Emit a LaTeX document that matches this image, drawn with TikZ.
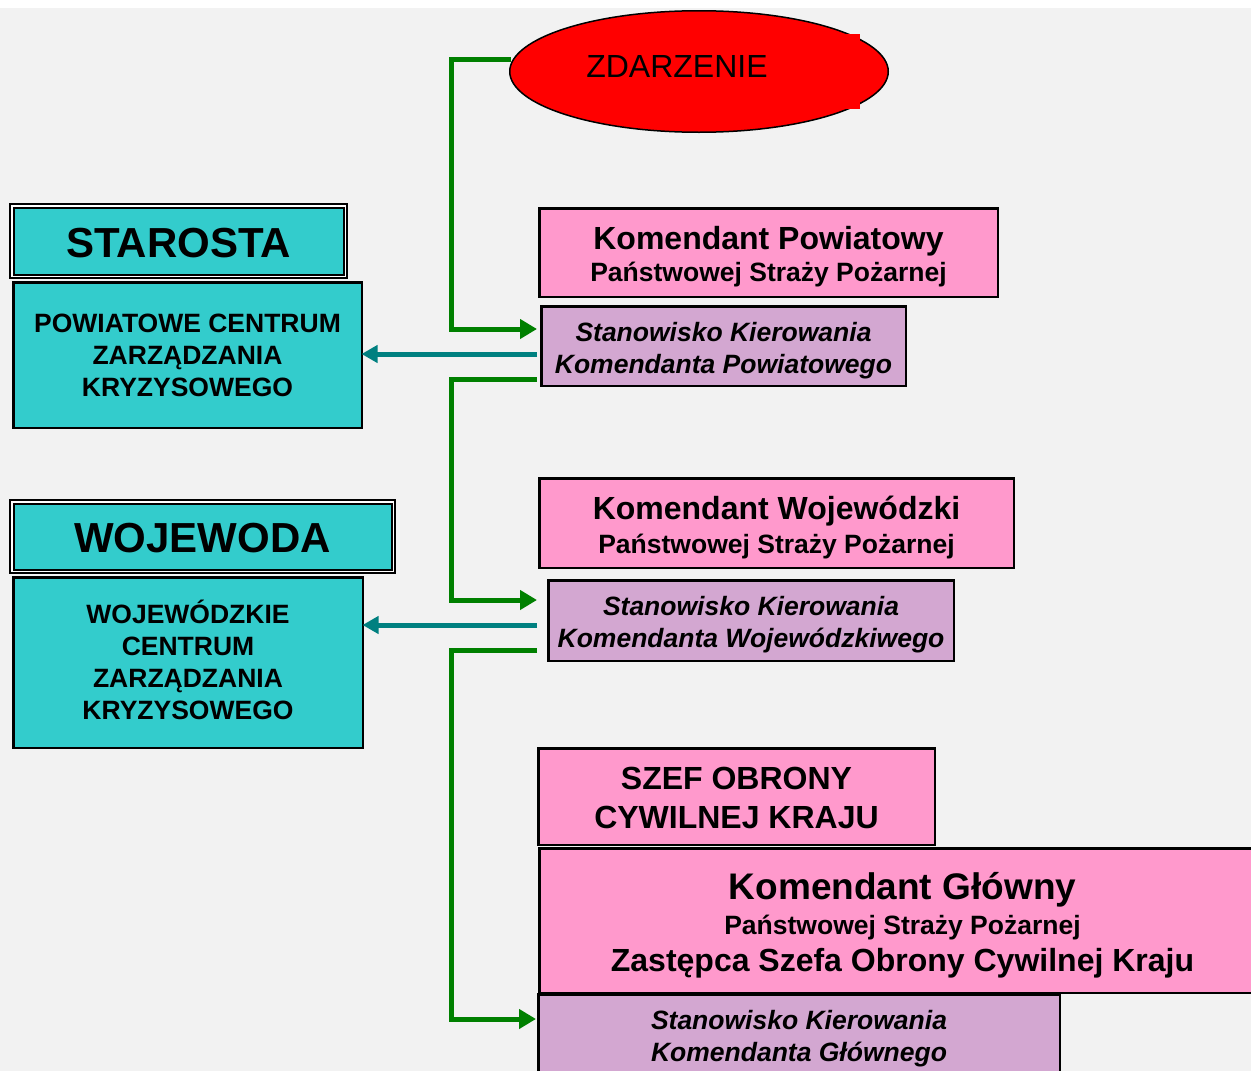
\documentclass[tikz,border=0pt]{standalone}
\usepackage{fontspec}
\setmainfont{Liberation Sans}
\usetikzlibrary{arrows.meta,shapes.geometric,calc}
\definecolor{bgc}{RGB}{242,242,242}
\definecolor{cyanbox}{RGB}{51,204,204}
\definecolor{pinkbox}{RGB}{255,153,204}
\definecolor{purplebox}{RGB}{211,167,209}
\definecolor{linkgreen}{RGB}{0,128,0}
\definecolor{linkteal}{RGB}{0,128,128}
\begin{document}
\begin{tikzpicture}[x=1pt,y=-1pt,
  box/.style={draw=black, line width=2.5pt, inner sep=0pt, rectangle},
  cyanb/.style={box, fill=cyanbox},
  pinkb/.style={box, fill=pinkbox},
  purpb/.style={box, fill=purplebox},
  headb/.style={draw=black, line width=2pt, double=white, double distance=1.5pt,
    fill=cyanbox, inner sep=0pt, rectangle},
  txt/.style={align=center, inner sep=0pt, font=\bfseries\fontsize{26.5}{32}\selectfont},
  headtxt/.style={txt, font=\bfseries\fontsize{42}{50}\selectfont},
  ittxt/.style={txt, font=\bfseries\itshape\fontsize{26.5}{32}\selectfont},
  greenarr/.style={draw=linkgreen, line width=5pt, -{Triangle[length=17pt,width=19pt]}},
  tealarr/.style={draw=linkteal, line width=5pt, -{Triangle[length=16pt,width=17pt]}}
]
\useasboundingbox (0,0) rectangle (1251,1071);
\clip (0,0) rectangle (1251,1071);
\fill[white] (0,0) rectangle (1251,1071);
\fill[bgc] (0,8) rectangle (1251,1071);

% event
\node[ellipse, draw=black, line width=1.5pt, fill=red, minimum width=378.5pt, minimum height=121.5pt, inner sep=0pt] (zd) at (699,71.5) {};
\fill[red] (560,34) rectangle (860,109);
\node[font=\fontsize{32}{38}\selectfont, inner sep=0pt] (zdtext) at (677,66) {ZDARZENIE};

% left side
\node[headb, minimum width=333.5pt, minimum height=70.5pt] (starosta) at (178.5,241) {};
\node[headtxt] (starostatxt) at ([yshift=-2pt]starosta.center) {STAROSTA};
\node[cyanb, minimum width=348.5pt, minimum height=145.5pt] (pcent) at (187.5,355) {};
\node[txt] (pcenttxt) at (pcent.center) {POWIATOWE CENTRUM\\ZARZĄDZANIA\\KRYZYSOWEGO};
\node[headb, minimum width=381.5pt, minimum height=69.5pt] (wojewoda) at (202.5,536.5) {};
\node[headtxt] (wojewodatxt) at ([yshift=-2pt]wojewoda.center) {WOJEWODA};
\node[cyanb, minimum width=349.5pt, minimum height=170.5pt] (wcent) at (188,662.5) {};
\node[txt] (wcenttxt) at ([yshift=3pt]wcent.center) {WOJEWÓDZKIE\\CENTRUM\\ZARZĄDZANIA\\KRYZYSOWEGO};

% right side
\node[pinkb, minimum width=458.5pt, minimum height=88.5pt] (kpow) at (768.5,252.5) {};
\node[txt] (kpowtxt) at ([yshift=-4pt]kpow.center)
  {{\fontsize{32}{38}\selectfont Komendant Powiatowy}\\Państwowej Straży Pożarnej};
\node[purpb, minimum width=364.5pt, minimum height=79.5pt] (skpow) at (723.5,346) {};
\node[ittxt] (skpowtxt) at ([yshift=-5pt]skpow.center) {Stanowisko Kierowania\\Komendanta Powiatowego};
\node[pinkb, minimum width=474.5pt, minimum height=89.5pt] (kwoj) at (776.5,523) {};
\node[txt] (kwojtxt) at ([yshift=-5pt]kwoj.center)
  {{\fontsize{32}{38}\selectfont Komendant Wojewódzki}\\[2pt]Państwowej Straży Pożarnej};
\node[purpb, minimum width=405.5pt, minimum height=80.5pt] (skwoj) at (751,620.5) {};
\node[ittxt] (skwojtxt) at ([yshift=-4pt]skwoj.center) {Stanowisko Kierowania\\Komendanta Wojewódzkiwego};
\node[pinkb, minimum width=396.5pt, minimum height=96.5pt] (szef) at (736.5,796.5) {};
\node[txt, font=\bfseries\fontsize{32}{39}\selectfont] (szeftxt) at ([yshift=-1pt]szef.center) {SZEF OBRONY\\CYWILNEJ KRAJU};
\node[pinkb, minimum width=726.5pt, minimum height=144.5pt] (kglow) at (902.5,920.5) {};
\node[txt, font=\bfseries\fontsize{26.5}{35}\selectfont] (kglowtxt) at ([yshift=-4.5pt]kglow.center)
  {{\fontsize{37}{44}\selectfont Komendant Główny}\\Państwowej Straży Pożarnej\\[2pt]{\fontsize{32}{38}\selectfont Zastępca Szefa Obrony Cywilnej Kraju}};
\node[purpb, minimum width=521.5pt, minimum height=83.5pt] (skglow) at (799,1036) {};
\node[ittxt] (skglowtxt) at ([yshift=-3pt]skglow.center) {Stanowisko Kierowania\\Komendanta Głównego};

% connectors
\coordinate (bus) at (451,0);
\coordinate (g1s) at ([xshift=2pt,yshift=12.5pt]zd.west);
\coordinate (g1t) at ([yshift=17pt]skpow.west);
\draw[greenarr, shorten >=3pt] (g1s) -- (g1s -| bus) -- (bus |- g1t) -- (g1t);

\coordinate (g2s) at ([xshift=-3pt,yshift=-33pt]skpow.west);
\coordinate (g2t) at ([yshift=20.5pt]skwoj.west);
\draw[greenarr, shorten >=10pt] (g2s) -- (g2s -| bus) -- (bus |- g2t) -- (g2t);

\coordinate (g3s) at ([xshift=-10pt,yshift=-29.5pt]skwoj.west);
\coordinate (g3t) at ([yshift=17pt]skglow.west);
\draw[greenarr, shorten >=1pt] (g3s) -- (g3s -| bus) -- (bus |- g3t) -- (g3t);

\coordinate (t1) at ([xshift=-3pt,yshift=-8pt]skpow.west);
\draw[tealarr, shorten >=-1.5pt] (t1) -- (t1 -| pcent.east);
\coordinate (t2) at ([xshift=-10pt,yshift=-4.5pt]skwoj.west);
\draw[tealarr, shorten >=-1.5pt] (t2) -- (t2 -| wcent.east);
\end{tikzpicture}
\end{document}
